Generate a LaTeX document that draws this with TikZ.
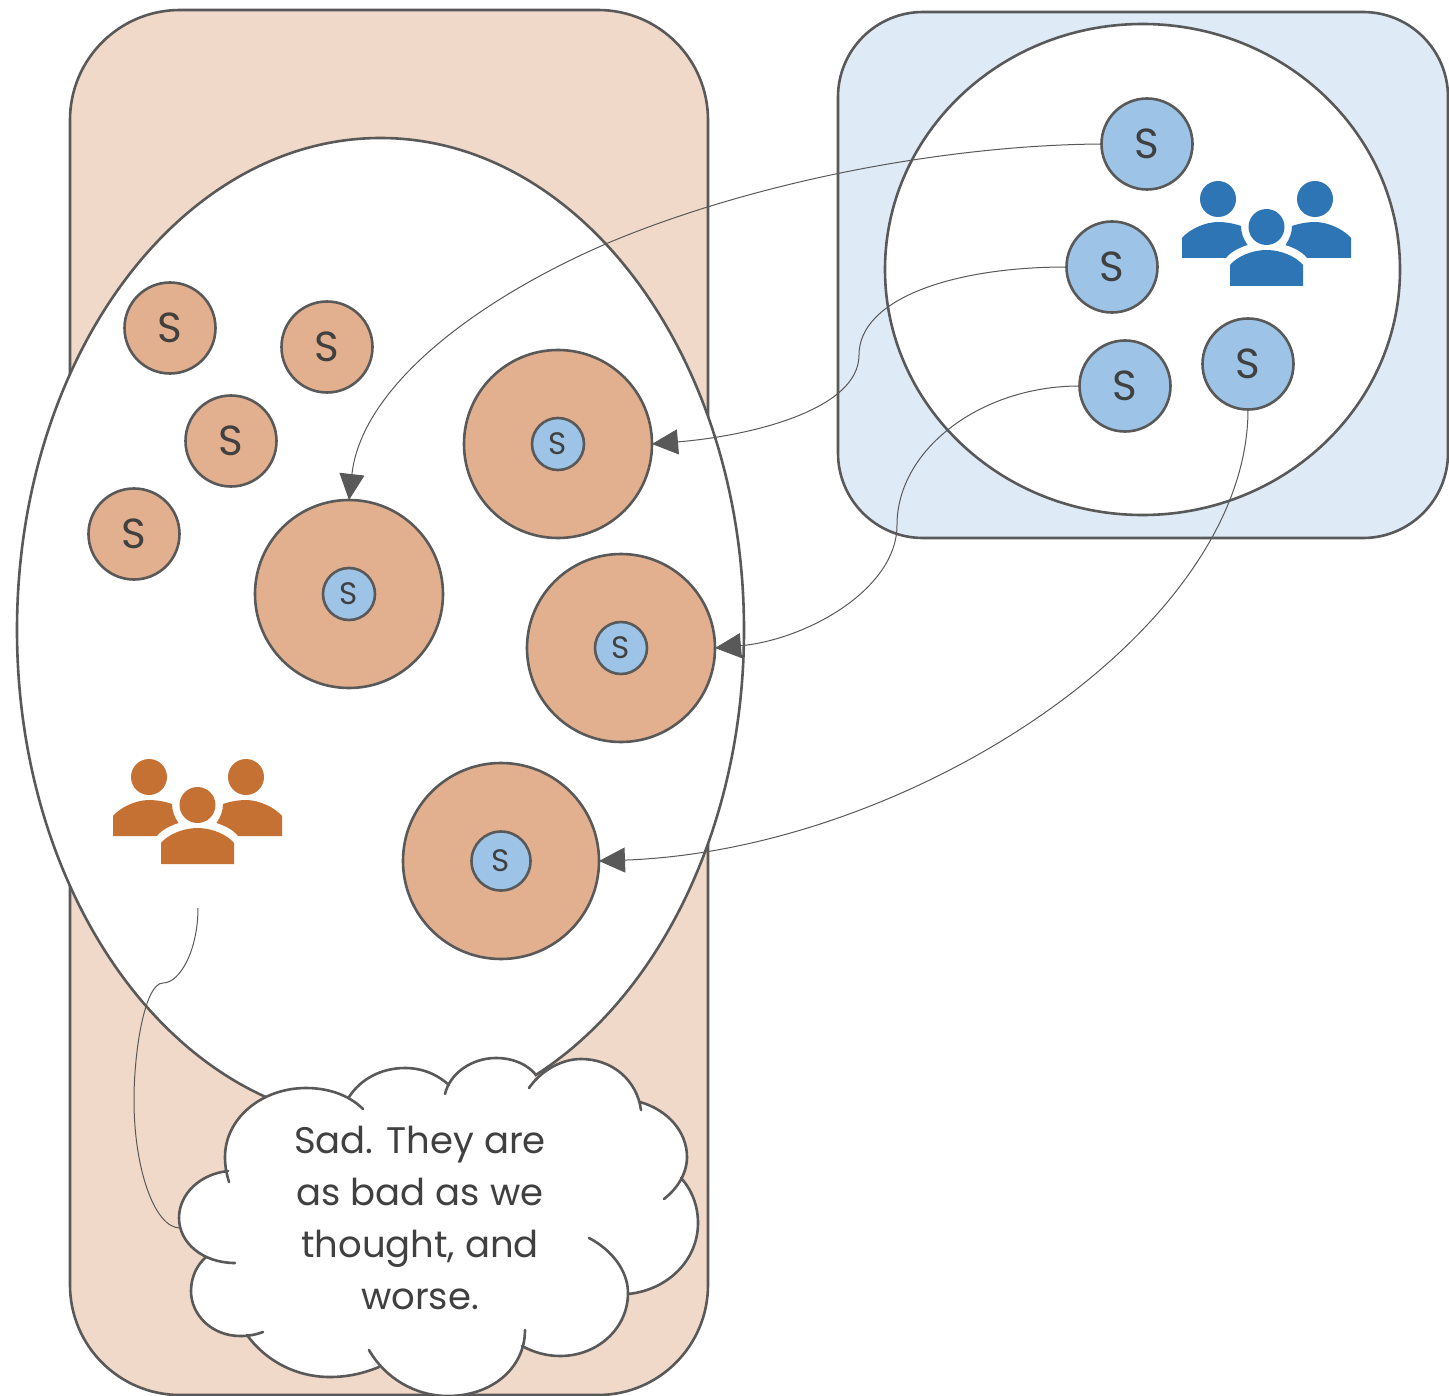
\documentclass[tikz,border=0pt]{standalone}
\usepackage{fontspec}
\setmainfont{Poppins}
\usetikzlibrary{arrows.meta,shapes.geometric}
\definecolor{ln}{HTML}{595959}
\definecolor{tx}{HTML}{404040}
\definecolor{sandbg}{HTML}{F0D9C8}
\definecolor{skybg}{HTML}{DEEAF6}
\definecolor{sand}{HTML}{E2B08F}
\definecolor{sky}{HTML}{9DC3E6}
\definecolor{deepblue}{HTML}{2E75B6}
\definecolor{deeporange}{HTML}{C47133}
\tikzset{
  panel/.style={draw=ln,line width=2.6pt,inner sep=0pt,outer sep=0pt},
  bubble/.style={ellipse,fill=white,draw=ln,line width=2.6pt,inner sep=0pt,outer sep=0pt},
  disc/.style={circle,draw=ln,line width=2.6pt,inner sep=0pt,outer sep=0pt,text=tx},
  smalldisc/.style={disc,minimum size=91pt,font=\fontsize{42}{42}\selectfont},
  hostdisc/.style={disc,fill=sand},
  innerdisc/.style={disc,fill=sky,font=\fontsize{31}{31}\selectfont},
  link/.style={draw=ln,line width=1pt},
  arrowlink/.style={link,-{Triangle[length=26pt,width=25pt]}},
  cloudline/.style={draw=ln,line width=2.6pt,line cap=round},
  people/.pic={
    \fill[pic actions] (-48.5,-34) circle[radius=18pt];
    \fill[pic actions] (48.5,-34) circle[radius=18pt];
    \fill[pic actions] (0,-6) circle[radius=18pt];
    \fill[pic actions] (-36.5,53) -- (-36.5,32) .. controls (-30,24) and (-15,17) .. (0,17) .. controls (15,17) and (30,24) .. (36.5,32) -- (36.5,53) -- cycle;
    \fill[pic actions] (-84.5,25) -- (-84.5,5) .. controls (-78,-3) and (-62,-11) .. (-48.5,-11) .. controls (-40,-11) and (-31,-9) .. (-25.5,-7) .. controls (-25.5,0) and (-23,6) .. (-19,12) .. controls (-28,15) and (-36,19) .. (-40.5,25) -- cycle;
    \fill[pic actions] (84.5,25) -- (84.5,5) .. controls (78,-3) and (62,-11) .. (48.5,-11) .. controls (40,-11) and (31,-9) .. (25.5,-7) .. controls (25.5,0) and (23,6) .. (19,12) .. controls (28,15) and (36,19) .. (40.5,25) -- cycle;
  }
}
\begin{document}
\begin{tikzpicture}[x=1pt,y=-1pt]
\useasboundingbox (0,0) rectangle (1449,1396);
% panels
\node[panel,fill=sandbg,rounded corners=110pt,minimum width=638pt,minimum height=1385pt] (leftpanel) at (389,702.5) {};
\node[panel,fill=skybg,rounded corners=85pt,minimum width=610pt,minimum height=526pt] (rightpanel) at (1143,275) {};
\node[bubble,minimum width=727pt,minimum height=984pt] (leftbubble) at (380.5,630) {};
\node[bubble,minimum width=515pt,minimum height=491pt] (rightbubble) at (1142.5,269.5) {};
% icons
\pic[fill=deepblue] at (1266.5,233) {people};
\pic[fill=deeporange] at (197.5,811) {people};
% small orange discs
\node[smalldisc,fill=sand] (o1) at (170,328) {S};
\node[smalldisc,fill=sand] (o2) at (327,347) {S};
\node[smalldisc,fill=sand] (o3) at (231,441) {S};
\node[smalldisc,fill=sand] (o4) at (134,534) {S};
% blue discs
\node[smalldisc,fill=sky] (b1) at (1147,144) {S};
\node[smalldisc,fill=sky] (b2) at (1112,267) {S};
\node[smalldisc,fill=sky] (b3) at (1125,386) {S};
\node[smalldisc,fill=sky] (b4) at (1248,364) {S};
% host discs
\node[hostdisc,minimum size=188pt] (h1) at (558,444) {};
\node[innerdisc,minimum size=52pt] (i1) at (558,444) {S};
\node[hostdisc,minimum size=188pt] (h2) at (349,594) {};
\node[innerdisc,minimum size=52pt] (i2) at (349,594) {S};
\node[hostdisc,minimum size=188pt] (h3) at (621,648) {};
\node[innerdisc,minimum size=52pt] (i3) at (621,648) {S};
\node[hostdisc,minimum size=196pt] (h4) at (501,861) {};
\node[innerdisc,minimum size=59pt] (i4) at (501,861) {S};
% connectors
\coordinate (m1) at (608,243);
\coordinate (m2) at (859,355);
\coordinate (m3) at (897,525);
\coordinate (talk) at (198,908);
\coordinate (m5) at (163,983);
\coordinate (m6) at (134,1100);
\coordinate (cloudend) at (180,1228);
\draw[arrowlink] (b1.west) .. controls (950,145) and (758,180) .. (m1) .. controls (480,298) and (362,385) .. (h2.north);
\draw[arrowlink] (b2.west) .. controls (950,267) and (859,300) .. (m2) .. controls (859,410) and (750,436) .. (h1.east);
\draw[arrowlink] (b3.west) .. controls (980,386) and (897,450) .. (m3) .. controls (897,590) and (805,640) .. (h3.east);
\draw[arrowlink] (b4.south) .. controls (1248,630) and (910,850) .. (h4.east);
\draw[link] (talk) .. controls (198,950) and (180,983) .. (m5) .. controls (145,983) and (134,1050) .. (m6) .. controls (134,1170) and (155,1228) .. (cloudend);
% cloud fill
\fill[white] (229,1182) -- (225,1157) .. controls (225,1118) and (262,1088) .. (306,1088) -- (349,1097) .. controls (360,1080) and (380,1068) .. (405,1068) .. controls (423,1068) and (438,1075) .. (449,1085) -- (445,1094) .. controls (450,1073) and (472,1058) .. (496,1058) .. controls (514,1058) and (528,1065) .. (536,1075) -- (529,1088) .. controls (540,1072) and (560,1059) .. (581,1059) .. controls (612,1059) and (637,1080) .. (640,1102) .. controls (668,1110) and (687,1132) .. (687,1157) -- (681,1178) .. controls (692,1190) and (698,1206) .. (698,1223) .. controls (698,1260) and (668,1290) .. (628,1294) .. controls (628,1328) and (598,1356) .. (560,1356) .. controls (546,1356) and (533,1352) .. (522,1346) .. controls (517,1375) and (485,1396) .. (448,1396) .. controls (415,1396) and (385,1378) .. (369,1350) -- (379,1367) .. controls (362,1374) and (346,1377) .. (330,1377) .. controls (295,1377) and (265,1360) .. (247,1335) .. controls (212,1336) and (191,1315) .. (191,1291) .. controls (191,1277) and (197,1265) .. (206,1257) .. controls (190,1250) and (179,1235) .. (179,1218) .. controls (179,1194) and (200,1174) .. (228,1171) -- cycle;
% cloud lines
\draw[cloudline] (229,1182) .. controls (226,1172) and (225,1165) .. (225,1157) .. controls (225,1118) and (262,1088) .. (306,1088) .. controls (330,1088) and (350,1096) .. (363,1109);
\draw[cloudline] (349,1097) .. controls (360,1080) and (380,1068) .. (405,1068) .. controls (423,1068) and (438,1075) .. (449,1085);
\draw[cloudline] (445,1094) .. controls (450,1073) and (472,1058) .. (496,1058) .. controls (514,1058) and (528,1065) .. (536,1075);
\draw[cloudline] (529,1088) .. controls (540,1072) and (560,1059) .. (581,1059) .. controls (612,1059) and (637,1080) .. (641,1110);
\draw[cloudline] (640,1102) .. controls (668,1110) and (687,1132) .. (687,1157) .. controls (687,1173) and (678,1188) .. (664,1199);
\draw[cloudline] (681,1178) .. controls (692,1190) and (698,1206) .. (698,1223) .. controls (698,1260) and (668,1290) .. (628,1294);
\draw[cloudline] (589,1238) .. controls (612,1250) and (628,1271) .. (628,1293) .. controls (628,1328) and (598,1356) .. (560,1356) .. controls (546,1356) and (533,1352) .. (522,1346);
\draw[cloudline] (525,1330) .. controls (525,1368) and (492,1396) .. (448,1396) .. controls (415,1396) and (385,1378) .. (369,1350);
\draw[cloudline] (379,1367) .. controls (362,1374) and (346,1377) .. (330,1377) .. controls (295,1377) and (265,1360) .. (247,1335);
\draw[cloudline] (263,1332) .. controls (255,1335) and (248,1336) .. (240,1336) .. controls (212,1336) and (191,1315) .. (191,1291) .. controls (191,1277) and (197,1265) .. (206,1257);
\draw[cloudline] (235,1263) .. controls (203,1263) and (179,1243) .. (179,1218) .. controls (179,1194) and (200,1174) .. (228,1171);
\node[align=center,text=tx,font=\fontsize{37}{52}\selectfont,inner sep=0pt] (saying) at (420,1218) {Sad. They are\\as bad as we\\thought, and\\worse.};
\end{tikzpicture}
\end{document}
